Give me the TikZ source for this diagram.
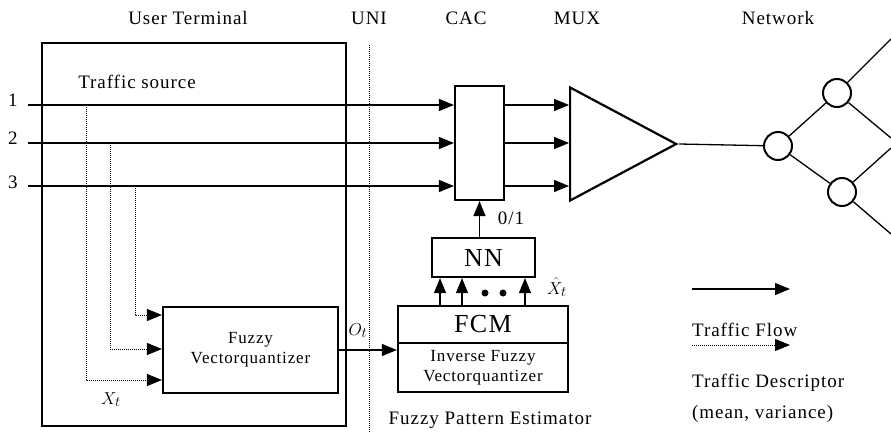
\documentclass[tikz,border=0pt]{standalone}
\usepackage{fontspec}
\setmainfont{Liberation Serif}[LetterSpace=5]
\usetikzlibrary{arrows.meta,shapes.geometric}

\begin{document}
\begin{tikzpicture}[x=1pt, y=-1pt,
    every node/.style={font=\fontsize{19}{22}\selectfont},
    block/.style={draw, line width=2.2pt, inner sep=0pt},
    small/.style={font=\fontsize{17}{20}\selectfont},
    big/.style={font=\fontsize{26}{28}\selectfont},
    tag/.style={anchor=base, inner sep=1pt},
    flow/.style={line width=1.3pt, -{Triangle[length=15pt,width=12pt]}},
    desc/.style={line width=1pt, densely dotted, -{Triangle[length=15pt,width=12pt]}},
    hub/.style={draw, circle, line width=2pt, minimum size=28pt, inner sep=0pt}]
    \useasboundingbox (0,0) rectangle (891,433);

    % headings
    \node[anchor=base] at (188,25) {User Terminal};
    \node[anchor=base] at (369,25) {UNI};
    \node[anchor=base] at (466,25) {CAC};
    \node[anchor=base] at (577,25) {MUX};
    \node[anchor=base] at (778,25) {Network};

    % user terminal
    \node[draw, line width=1.4pt, minimum width=304pt, minimum height=383pt] (ut) at (194,234.5) {};
    \node[anchor=base] at (137,89) {Traffic source};
    \draw[line width=1pt, densely dotted] (369,45) -- (369,433);

    \coordinate (in1) at (28,105);
    \coordinate (in2) at (28,143);
    \coordinate (in3) at (28,186);
    \node[anchor=base] at (13,107) {1};
    \node[anchor=base] at (13,145) {2};
    \node[anchor=base] at (13,188) {3};

    \node[block, minimum width=49pt, minimum height=114pt] (cac) at (479.5,143) {};
    \node[draw, isosceles triangle, isosceles triangle stretches, line width=2.2pt, inner sep=0pt,
        minimum width=113pt, minimum height=106pt, anchor=apex] (mux) at (679,144) {};

    \draw[flow] (in1) -- (in1 -| cac.west);
    \draw[flow] (in2) -- (in2 -| cac.west);
    \draw[flow] (in3) -- (in3 -| cac.west);
    \draw[flow] (cac.east |- in1) -- (in1 -| mux.lower side);
    \draw[flow] (cac.east |- in2) -- (in2 -| mux.lower side);
    \draw[flow] (cac.east |- in3) -- (in3 -| mux.lower side);

    % network
    \node[hub] (n0) at (778,146) {};
    \node[hub] (n1) at (837,93) {};
    \node[hub] (n2) at (842,192) {};
    \coordinate (e1) at (891,39);
    \coordinate (e2) at (891,138);
    \coordinate (e3) at (891,148);
    \coordinate (e4) at (891,234);
    \draw[line width=1.3pt] (mux.apex) -- (n0);
    \draw[line width=1.3pt] (n0) -- (n1);
    \draw[line width=1.3pt] (n0) -- (n2);
    \draw[line width=1.3pt] (n1) -- (e1);
    \draw[line width=1.3pt] (n1) -- (e2);
    \draw[line width=1.3pt] (n2) -- (e3);
    \draw[line width=1.3pt] (n2) -- (e4);

    % quantizer
    \node[block, small, align=center, minimum width=175pt, minimum height=86pt] (fvq) at (250.5,350)
        {Fuzzy\\Vectorquantizer};
    \coordinate (b1) at (86,105);
    \coordinate (b2) at (110,143);
    \coordinate (b3) at (135,186);
    \draw[desc] (b1) |- (fvq.west |- 0,380);
    \draw[desc] (b2) |- (fvq.west |- 0,349);
    \draw[desc] (b3) |- (fvq.west |- 0,315);
    \node[tag] at (111,404) {$X_t$};

    % estimator
    \node[block, big, minimum width=170pt, minimum height=37pt] (fcm) at (483,324.5) {FCM};
    \node[block, small, align=center, minimum width=170pt, minimum height=49pt] (ifvq) at (483,367.5)
        {Inverse Fuzzy\\Vectorquantizer};
    \node[block, big, minimum width=103pt, minimum height=39pt] (nn) at (483.5,257.5) {NN};
    \draw[flow] (fvq.east) -- (fvq.east -| ifvq.west);
    \node[tag] at (358,335) {$O_t$};
    \foreach \x in {440,462,525}
        \draw[flow] (fcm.north -| \x,0) -- (nn.south -| \x,0);
    \fill (485,293) circle (3.5pt);
    \fill (503,293) circle (3.5pt);
    \node[tag] at (557,294) {$\hat{X}_t$};
    \draw[flow] (nn.north -| cac.south) -- (cac.south);
    \node[tag] at (511,224) {0/1};
    \node[anchor=base] at (490,424) {Fuzzy Pattern Estimator};

    % legend
    \coordinate (lf1) at (692,289);
    \coordinate (lf2) at (790,289);
    \coordinate (ld1) at (692,345);
    \coordinate (ld2) at (790,345);
    \draw[flow] (lf1) -- (lf2);
    \draw[desc] (ld1) -- (ld2);
    \node[anchor=base west, inner sep=0pt] at (692,336) {Traffic Flow};
    \node[anchor=base west, inner sep=0pt] at (692,387) {Traffic Descriptor};
    \node[anchor=base west, inner sep=0pt] at (692,418) {(mean, variance)};
\end{tikzpicture}
\end{document}
